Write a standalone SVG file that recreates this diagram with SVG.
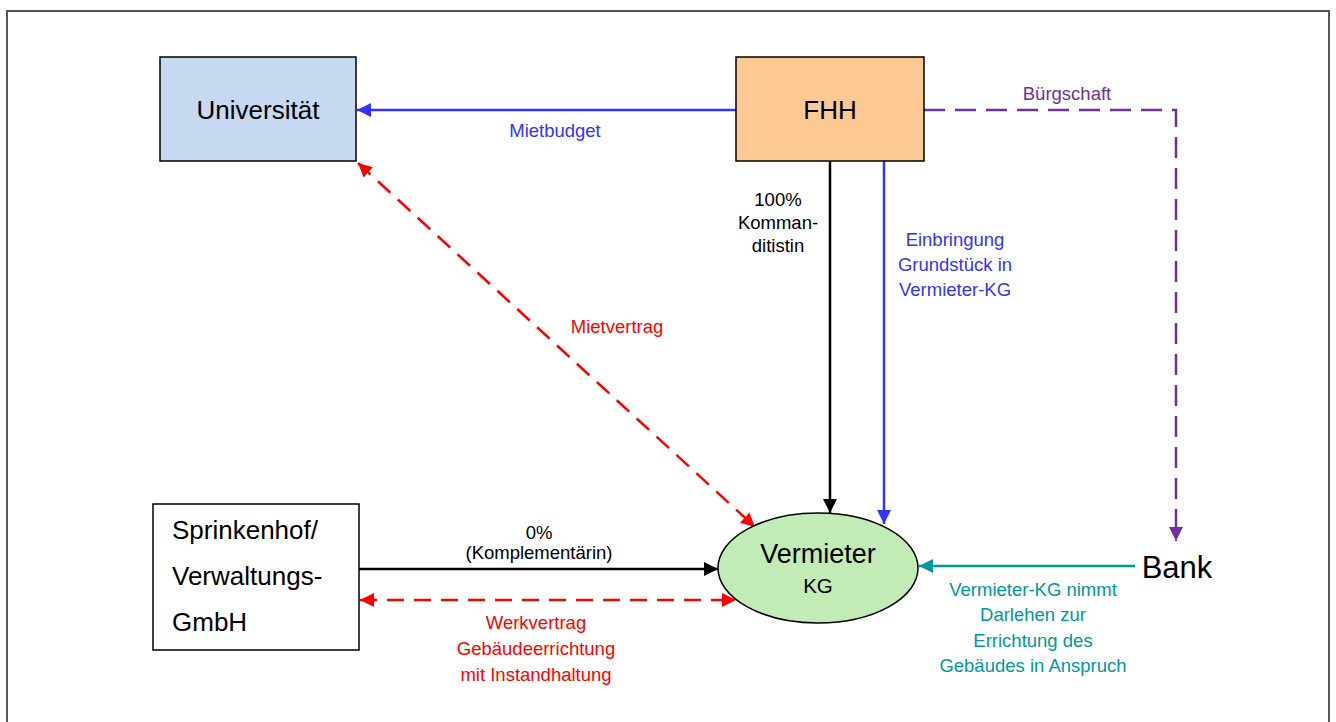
<svg xmlns="http://www.w3.org/2000/svg" width="1336" height="722" viewBox="0 0 1336 722">
<style>
text{font-family:"Liberation Sans",Arial,sans-serif;text-anchor:middle}
.node{stroke:#000;stroke-width:1.5}
.big{font-size:26px;fill:#000}
.lbl{font-size:18.5px}
.c{fill:none;stroke-width:2.5}
.dr{stroke-dasharray:17,10}
.dp{stroke-dasharray:21,10}
</style>
<defs>
<marker id="ak" viewBox="0 0 10 10" refX="10" refY="5" markerWidth="5.6" markerHeight="5.6" orient="auto-start-reverse" markerUnits="strokeWidth"><path d="M0,0L10,5L0,10z" fill="#000"/></marker>
<marker id="ab" viewBox="0 0 10 10" refX="10" refY="5" markerWidth="5.6" markerHeight="5.6" orient="auto-start-reverse" markerUnits="strokeWidth"><path d="M0,0L10,5L0,10z" fill="#3333ff"/></marker>
<marker id="ar" viewBox="0 0 10 10" refX="10" refY="5" markerWidth="5.6" markerHeight="5.6" orient="auto-start-reverse" markerUnits="strokeWidth"><path d="M0,0L10,5L0,10z" fill="#ff0000"/></marker>
<marker id="ap" viewBox="0 0 10 10" refX="10" refY="5" markerWidth="5.6" markerHeight="5.6" orient="auto-start-reverse" markerUnits="strokeWidth"><path d="M0,0L10,5L0,10z" fill="#7030a0"/></marker>
<marker id="at" viewBox="0 0 10 10" refX="10" refY="5" markerWidth="5.6" markerHeight="5.6" orient="auto-start-reverse" markerUnits="strokeWidth"><path d="M0,0L10,5L0,10z" fill="#009999"/></marker>
</defs>
<rect x="0" y="0" width="1336" height="722" fill="#fff"/>
<rect x="7" y="11" width="1322" height="720" fill="none" stroke="#555" stroke-width="2"/>
<g id="connectors">
<line class="c" x1="736" y1="110" x2="357" y2="110" stroke="#3333ff" marker-end="url(#ab)"/>
<text class="lbl" x="555" y="137" fill="#3333ff">Mietbudget</text>
<line class="c dr" x1="358" y1="163" x2="755" y2="527" stroke="#ff0000" marker-start="url(#ar)" marker-end="url(#ar)"/>
<text class="lbl" x="617" y="333" fill="#ff0000">Mietvertrag</text>
<line class="c" x1="830" y1="161" x2="830" y2="513" stroke="#000" marker-end="url(#ak)"/>
<text class="lbl" fill="#000"><tspan x="778" y="206">100%</tspan><tspan x="778" y="229">Komman-</tspan><tspan x="778" y="252">ditistin</tspan></text>
<line class="c" x1="884" y1="158" x2="884" y2="524" stroke="#3333ff" marker-end="url(#ab)"/>
<text class="lbl" fill="#3333ff"><tspan x="955" y="246">Einbringung</tspan><tspan x="955" y="271">Grundstück in</tspan><tspan x="955" y="296">Vermieter-KG</tspan></text>
<path class="c dp" d="M924,110H1176V541" stroke="#7030a0" marker-end="url(#ap)"/>
<text class="lbl" x="1067" y="100" fill="#7030a0">Bürgschaft</text>
<line class="c" x1="359" y1="569" x2="718" y2="569" stroke="#000" marker-end="url(#ak)"/>
<text class="lbl" fill="#000"><tspan x="539" y="539">0%</tspan><tspan x="539" y="559">(Komplementärin)</tspan></text>
<line class="c dr" x1="360" y1="600" x2="736" y2="600" stroke="#ff0000" marker-start="url(#ar)" marker-end="url(#ar)"/>
<text class="lbl" fill="#ff0000"><tspan x="536" y="629">Werkvertrag</tspan><tspan x="536" y="655">Gebäudeerrichtung</tspan><tspan x="536" y="681">mit Instandhaltung</tspan></text>
<line class="c" x1="1135" y1="566" x2="919" y2="566" stroke="#009999" marker-end="url(#at)"/>
<text class="lbl" fill="#009999"><tspan x="1033" y="596">Vermieter-KG nimmt</tspan><tspan x="1033" y="621">Darlehen zur</tspan><tspan x="1033" y="647">Errichtung des</tspan><tspan x="1033" y="672">Gebäudes in Anspruch</tspan></text>
</g>
<g id="universitaet">
<rect class="node" x="160" y="57" width="196" height="104" fill="#c6d9f0"/>
<text class="big" x="258" y="119">Universität</text>
</g>
<g id="fhh">
<rect class="node" x="736" y="57" width="188" height="104" fill="#fdc993"/>
<text class="big" x="830" y="119">FHH</text>
</g>
<g id="sprinkenhof">
<rect class="node" x="153" y="504" width="206" height="146" fill="#fff"/>
<text class="big" style="text-anchor:start"><tspan x="172" y="539">Sprinkenhof/</tspan><tspan x="172" y="585">Verwaltungs-</tspan><tspan x="172" y="631">GmbH</tspan></text>
</g>
<g id="vermieter">
<ellipse class="node" cx="818" cy="568" rx="100" ry="55" fill="#c3ebb6"/>
<text x="818" y="563" style="font-size:27px">Vermieter</text>
<text x="818" y="593" style="font-size:20.5px">KG</text>
</g>
<g id="bank">
<text x="1177" y="578" style="font-size:31px">Bank</text>
</g>
</svg>
